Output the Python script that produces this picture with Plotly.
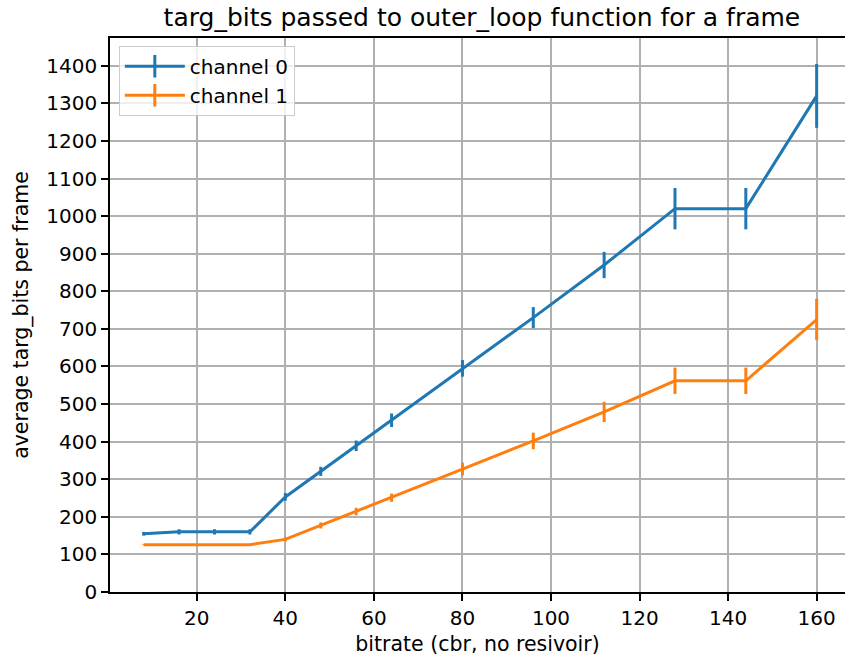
import plotly.graph_objects as go

bitrate = [8, 16, 24, 32, 40, 48, 56, 64, 80, 96, 112, 128, 144, 160]
ch0_mean = [155, 160, 160, 160, 253, 321, 389, 457, 595, 730, 870, 1020, 1020, 1320]
ch0_err = [5, 7, 7, 7, 10, 12, 14, 18, 22, 28, 35, 55, 55, 85]
ch1_mean = [126, 126, 126, 126, 140, 177, 214, 251, 327, 402, 479, 562, 562, 725]
ch1_err = [1, 1, 1, 1, 5, 8, 10, 11, 17, 22, 27, 35, 35, 55]

names = ["channel 0", "channel 1"]
colors = ["#1f77b4", "#ff7f0e"]
FONT = "DejaVu Sans"

fig = go.Figure()
for name, col, ys, es in zip(names, colors, [ch0_mean, ch1_mean], [ch0_err, ch1_err]):
    fig.add_trace(go.Scatter(
        x=bitrate, y=ys, mode="lines", name=name, showlegend=False,
        line=dict(color=col, width=3),
        error_y=dict(type="data", array=es, visible=True, width=0, thickness=3, color=col),
    ))
    fig.add_trace(go.Scatter(
        x=[None], y=[None], mode="lines+markers", name=name,
        line=dict(color=col, width=3),
        marker=dict(symbol="line-ns-open", size=16, line=dict(color=col, width=3)),
    ))

axis_common = dict(
    showgrid=True, gridcolor="#b0b0b0", gridwidth=1.6,
    showline=True, linecolor="black", linewidth=1.6,
    ticks="outside", ticklen=7, tickwidth=1.6, tickcolor="black",
    tickfont=dict(family=FONT, size=20, color="black"),
    zeroline=False,
)

fig.update_layout(
    width=845, height=656,
    margin=dict(l=110, r=0, t=38, b=64),
    paper_bgcolor="white", plot_bgcolor="white",
    font=dict(family=FONT, size=20, color="black"),
    title=dict(text="targ_bits passed to outer_loop function for a frame",
               font=dict(family=FONT, size=25, color="black"),
               x=0.506, xref="paper", xanchor="center", y=1 - 17 / 656, yanchor="middle"),
    xaxis=dict(range=[0.4, 166.4], tickvals=[20, 40, 60, 80, 100, 120, 140, 160],
               mirror=True,
               title=dict(text="bitrate (cbr, no resivoir)", font=dict(family=FONT, size=20.5), standoff=8),
               **axis_common),
    yaxis=dict(range=[0, 1474], tickvals=list(range(0, 1401, 100)),
               title=dict(text="average targ_bits per frame", font=dict(family=FONT, size=20.5), standoff=12),
               **axis_common),
    legend=dict(x=0.012, y=0.986, xanchor="left", yanchor="top",
                bgcolor="rgba(255,255,255,0.8)", bordercolor="#cccccc", borderwidth=1,
                font=dict(family=FONT, size=20, color="black"), itemwidth=60),
)

fig.write_html("out.html")
